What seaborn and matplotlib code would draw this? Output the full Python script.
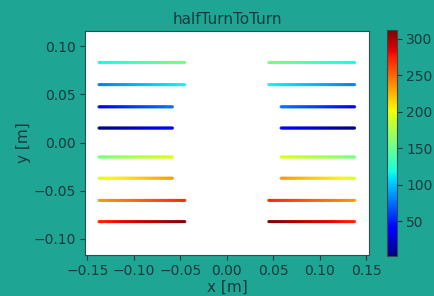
import numpy as np
import pandas as pd
import seaborn as sns
import matplotlib.pyplot as plt
from matplotlib.colors import Normalize
from matplotlib.cm import ScalarMappable

# segment data (one half; the other half is mirrored in x)
y_levels = [0.015, 0.037, 0.060, 0.083, -0.015, -0.037, -0.060, -0.082]
x_outer = [0.1376] * 8
x_inner = [0.0585, 0.0585, 0.0452, 0.0452, 0.0585, 0.0585, 0.0452, 0.0452]
v_start = [2, 40, 78, 117, 156, 195, 234, 273]
v_end = [39, 77, 116, 155, 194, 233, 272, 312]
cbar_ticks = [50, 100, 150, 200, 250, 300]

bg = '#1fa593'
ink = '#173a40'
plt.rcParams.update({'text.color': ink, 'axes.labelcolor': ink,
                     'xtick.color': ink, 'ytick.color': ink,
                     'font.size': 11})

rows = []
for side in (-1, 1):
    for y, xo, xi, v0, v1 in zip(y_levels, x_outer, x_inner, v_start, v_end):
        # gradient along each segment: outer end -> inner end
        for t in np.linspace(0, 1, 80):
            rows.append({'x': side * (xo + (xi - xo) * t), 'y': y,
                         'val': v0 + (v1 - v0) * t})
df = pd.DataFrame(rows)

fig = plt.figure(figsize=(4.34, 2.96), dpi=100, facecolor=bg)
ax = fig.add_axes([0.196, 0.1385, 0.654, 0.7565])
cax = fig.add_axes([0.892, 0.135, 0.023, 0.764])

jet = plt.get_cmap('jet')
norm = Normalize(2, 312)
sns.scatterplot(data=df, x='x', y='y', hue='val', palette=jet,
                hue_norm=norm, s=5, linewidth=0, alpha=0.85, legend=False, ax=ax)
ax.set_xlim(-0.1526, 0.153)
ax.set_ylim(-0.1166, 0.1155)
ax.set_xticks([-0.15, -0.10, -0.05, 0.0, 0.05, 0.10, 0.15])
ax.set_yticks([-0.10, -0.05, 0.0, 0.05, 0.10])
ax.tick_params(labelsize=10, pad=3)
cax.tick_params(labelsize=10, pad=3)
ax.set_xlabel('x [m]', labelpad=1)
ax.set_ylabel('y [m]', labelpad=2)
ax.set_title('halfTurnToTurn', fontsize=11, pad=5)
for sp in ax.spines.values():
    sp.set_color('#2e4d50')

cb = fig.colorbar(ScalarMappable(norm=norm, cmap=jet), cax=cax)
cb.set_ticks(cbar_ticks)
cb.outline.set_edgecolor('#2e4d50')
cb.set_label('T [K]', labelpad=6)

fig.savefig('out.png', dpi=100, facecolor=bg)
